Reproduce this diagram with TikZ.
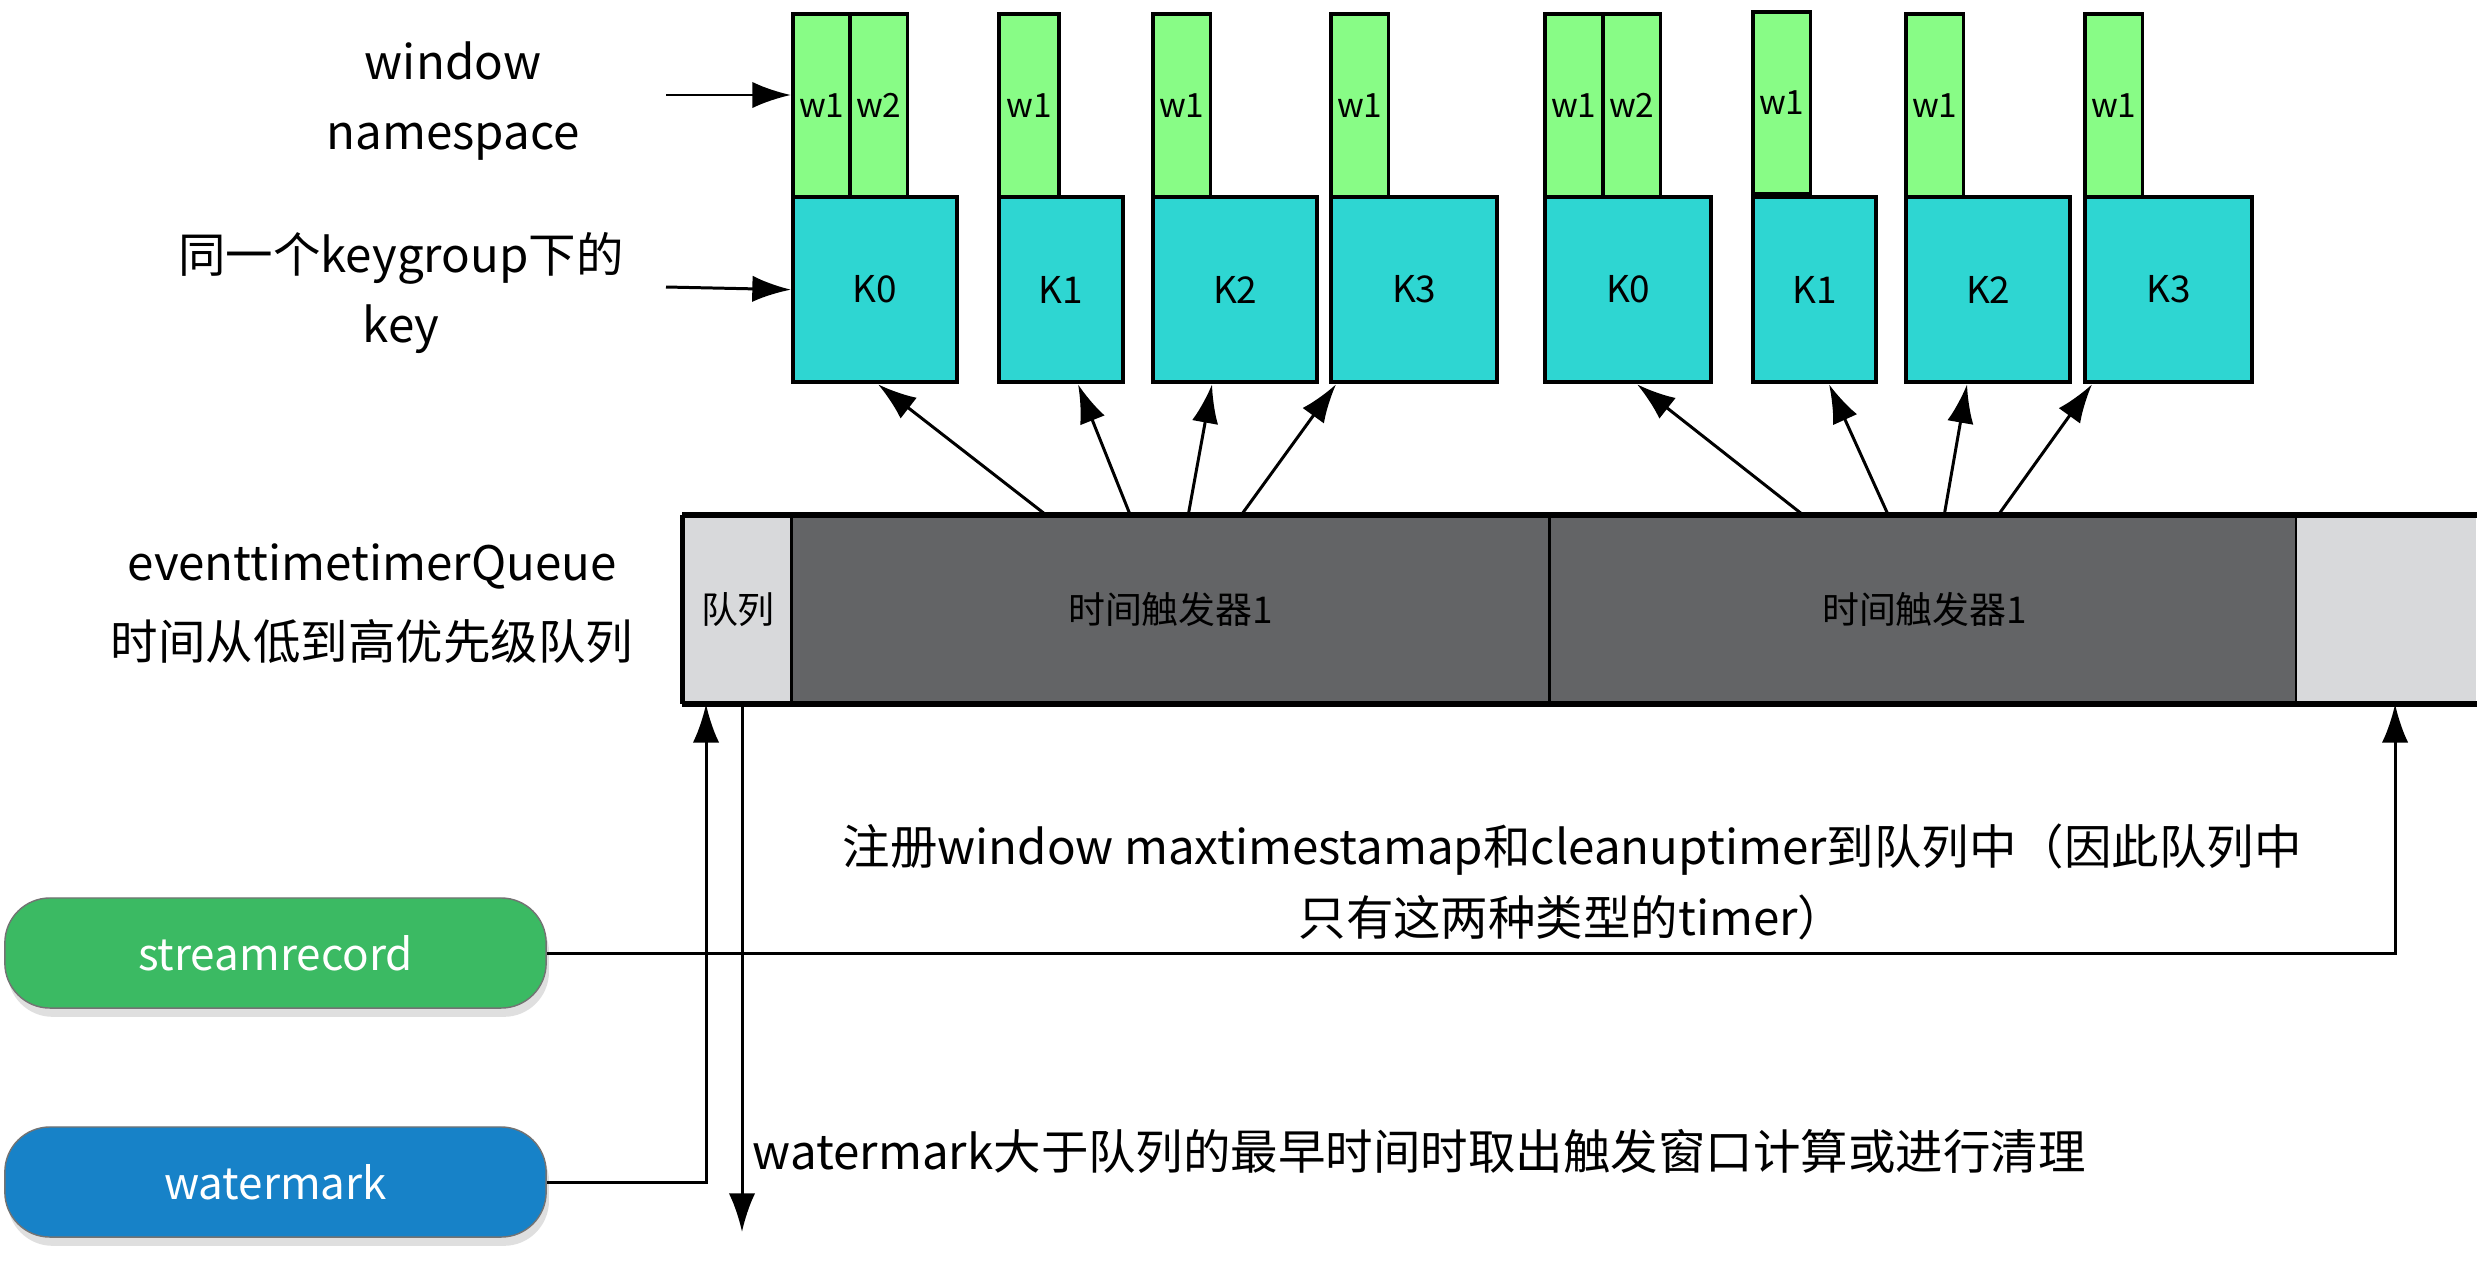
\documentclass[tikz,border=0pt]{standalone}
\usepackage{fontspec}
\setmainfont{Noto Sans CJK SC}
\usetikzlibrary{arrows.meta,shadows,calc}
\definecolor{wgreen}{RGB}{136,252,134}
\definecolor{kcyan}{RGB}{46,214,210}
\definecolor{qdarkc}{RGB}{99,100,102}
\definecolor{qlightc}{RGB}{216,217,219}
\definecolor{srgreen}{RGB}{59,186,99}
\definecolor{wmblue}{RGB}{23,130,200}
\tikzset{
  kbox/.style={draw=black, line width=1.2pt, fill=kcyan, anchor=north west, minimum height=1.85cm, inner sep=0pt, font=\fontsize{10.5pt}{12pt}\selectfont},
  wbox/.style={draw=black, line width=1.1pt, fill=wgreen, anchor=north west, minimum width=0.575cm, minimum height=1.83cm, inner sep=0pt, font=\fontsize{9.5pt}{11pt}\selectfont},
  qcell/.style={draw=black, line width=0.8pt, anchor=north west, minimum height=1.86cm, inner sep=0pt, font=\fontsize{10.5pt}{12pt}\selectfont},
  qdark/.style={qcell, fill=qdarkc},
  qlight/.style={qcell, fill=qlightc},
  arr/.style={line width=0.85pt, -{Latex[length=11pt,width=7.5pt]}},
  lab/.style={inner sep=0pt, font=\fontsize{13.5pt}{20pt}\selectfont},
  pill/.style={draw=black!55, line width=0.4pt, rounded corners=0.45cm, minimum width=5.41cm, minimum height=1.1cm, text=white, font=\fontsize{12.5pt}{14pt}\selectfont, drop shadow={opacity=0.25, shadow xshift=0.8pt, shadow yshift=-2.5pt}}
}
\begin{document}
\begin{tikzpicture}[x=0.01cm,y=-0.01cm]
\useasboundingbox[fill=white] (0,0) rectangle (2482,1260);

% group 1
\node[wbox] (w1a0) at (791,12) {w1};
\node[wbox] (w2a0) at (848,12) {w2};
\node[kbox, minimum width=1.64cm] (k0a) at (791,195) {K0};
\node[wbox, minimum width=0.6cm] (w1a1) at (997,12) {w1};
\node[kbox, minimum width=1.24cm] (k1a) at (997,195) {K1};
\node[wbox] (w1a2) at (1151,12) {w1};
\node[kbox, minimum width=1.64cm] (k2a) at (1151,195) {K2};
\node[wbox] (w1a3) at (1329,12) {w1};
\node[kbox, minimum width=1.66cm] (k3a) at (1329,195) {K3};
% group 2
\node[wbox] (w1b0) at (1543,12) {w1};
\node[wbox] (w2b0) at (1601,12) {w2};
\node[kbox, minimum width=1.66cm] (k0b) at (1543,195) {K0};
\node[wbox, minimum height=1.82cm] (w1b1) at (1751,10) {w1};
\node[kbox, minimum width=1.23cm] (k1b) at (1751,195) {K1};
\node[wbox] (w1b2) at (1904,12) {w1};
\node[kbox, minimum width=1.64cm] (k2b) at (1904,195) {K2};
\node[wbox] (w1b3) at (2083,12) {w1};
\node[kbox, minimum width=1.67cm] (k3b) at (2083,195) {K3};

% left labels
\node[lab, align=center] (lwin) at (453,101) {window\\namespace};
\node[lab, align=center] (lkey) at (401,293) {同一个keygroup下的\\key};
\node[lab, align=center, font=\fontsize{13.5pt}{22.5pt}\selectfont] (lq) at (372,604) {eventtimetimerQueue\\时间从低到高优先级队列};
\coordinate (a1) at (666,95);
\coordinate (a2) at (666,287);
\draw[arr] (a1) -- (a1 -| w1a0.west);
\draw[arr] (a2) -- (k0a.west);

% queue
\node[qlight, minimum width=1.09cm] (ql) at (682,515) {队列};
\node[qdark, minimum width=7.58cm] (d1) at (790,515) {时间触发器1};
\node[qdark, minimum width=7.50cm] (d2) at (1548,515) {时间触发器1};
\node[qlight, draw=none, minimum width=1.78cm] (qr) at (2296,515) {};
\draw[line width=0.8pt] (qr.north west) -- (qr.south west);
\draw[line width=1.5pt] (ql.north west) -- (qr.north east);
\draw[line width=1.5pt] (ql.south west) -- (qr.south east);
\draw[line width=1.3pt] (ql.north west) -- (ql.south west);

% arrows to keys
\draw[arr] ([xshift=2.56cm]d1.north west) -- ([xshift=0.87cm]k0a.south west);
\draw[arr] ([xshift=3.40cm]d1.north west) -- ([xshift=0.81cm]k1a.south west);
\draw[arr] ([xshift=3.98cm]d1.north west) -- ([xshift=0.61cm]k2a.south west);
\draw[arr] ([xshift=4.51cm]d1.north west) -- ([xshift=0.07cm]k3a.south west);
\draw[arr] ([xshift=2.55cm]d2.north west) -- ([xshift=0.94cm]k0b.south west);
\draw[arr] ([xshift=3.40cm]d2.north west) -- ([xshift=0.78cm]k1b.south west);
\draw[arr] ([xshift=3.96cm]d2.north west) -- ([xshift=0.63cm]k2b.south west);
\draw[arr] ([xshift=4.50cm]d2.north west) -- ([xshift=0.09cm]k3b.south west);

% sources
\node[pill, fill=srgreen] (sr) at (275.5,953) {streamrecord};
\node[pill, fill=wmblue] (wm) at (275.5,1182) {watermark};
\draw[arr] (sr.east) -| ([xshift=0.99cm]qr.south west);
\draw[arr] (wm.east) -| ([xshift=0.24cm]ql.south west);
\coordinate (dn) at (742,1232);
\draw[arr] (dn |- ql.south) -- (dn);

% texts
\node[lab, align=center, font=\fontsize{13.5pt}{20.2pt}\selectfont] (reg) at (1572,882) {注册window maxtimestamap和cleanuptimer到队列中（因此队列中\\只有这两种类型的timer）};
\node[lab, anchor=west] (wmt) at (752,1151) {watermark大于队列的最早时间时取出触发窗口计算或进行清理};
\end{tikzpicture}
\end{document}
